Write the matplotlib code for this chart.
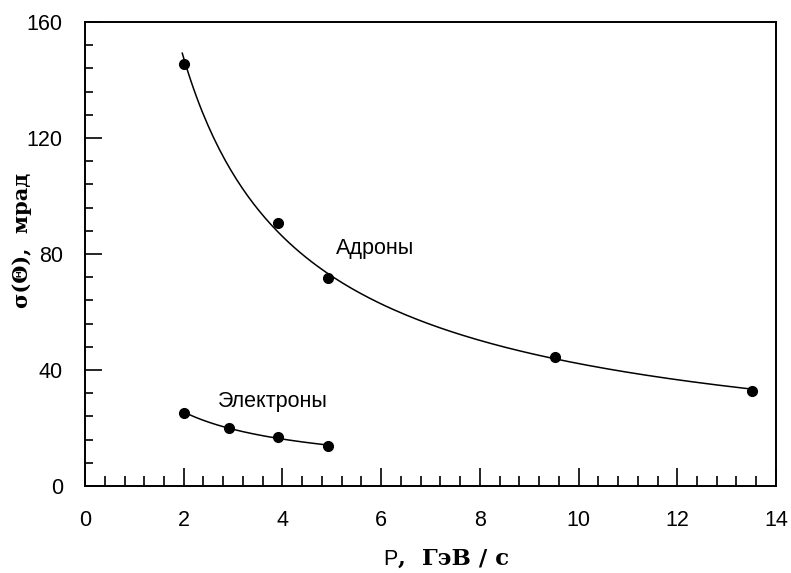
import numpy as np
import matplotlib.pyplot as plt
from matplotlib.ticker import MultipleLocator

p_hadr = [2.0, 3.9, 4.93, 9.53, 13.52]
s_hadr = [145.4, 90.6, 71.8, 44.6, 32.8]
p_el = [2.0, 2.92, 3.92, 4.93]
s_el = [25.3, 19.9, 16.8, 13.8]

lab_hadr = 'Адроны'
lab_el = 'Электроны'


def power_fit(x, y, x0, x1):
    # fit sigma = a * p^-b in log space
    b, a = np.polyfit(np.log(x), np.log(y), 1)
    xx = np.linspace(x0, x1, 200)
    return xx, np.exp(a) * xx ** b


fig = plt.figure(figsize=(7.91, 5.73), dpi=100)
ax = fig.add_axes([0.1075, 0.152, 0.8735, 0.8096])

xx, yy = power_fit(p_hadr, s_hadr, 1.97, p_hadr[-1])
ax.plot(xx, yy, color='black', lw=1.1)
xx, yy = power_fit(p_el, s_el, p_el[0], p_el[-1])
ax.plot(xx, yy, color='black', lw=1.1)

ax.plot(p_hadr, s_hadr, 'o', color='black', ms=7)
ax.plot(p_el, s_el, 'o', color='black', ms=7)

ax.text(5.08, 82, lab_hadr, fontsize=15.5, family='Liberation Sans', va='center')
ax.text(2.7, 29, lab_el, fontsize=15.5, family='Liberation Sans', va='center')

ax.set_xlim(0, 14)
ax.set_ylim(0, 160)
ax.xaxis.set_major_locator(MultipleLocator(2))
ax.xaxis.set_minor_locator(MultipleLocator(0.4))
ax.yaxis.set_major_locator(MultipleLocator(40))
ax.yaxis.set_minor_locator(MultipleLocator(8))

ax.tick_params(axis='x', which='major', direction='in', length=13, width=1.2, pad=17)
ax.tick_params(axis='x', which='minor', direction='in', length=7, width=1.2)
ax.tick_params(axis='y', which='major', direction='in', length=12, width=1.2, pad=16)
ax.tick_params(axis='y', which='minor', direction='in', length=5.5, width=1.2)
for lbl in ax.get_xticklabels() + ax.get_yticklabels():
    lbl.set_family('Liberation Sans')
    lbl.set_fontsize(15.5)
for sp in ax.spines.values():
    sp.set_linewidth(1.4)

# axis titles
fig.text(0.502, 0.014, 'P', ha='right', va='baseline', fontsize=15.5,
         family='Liberation Sans')
fig.text(0.503, 0.014, ',  ГэВ / с', ha='left', va='baseline', fontsize=16.5,
         family='DejaVu Serif', weight='bold')
fig.text(0.028, 0.581, 'σ(Θ),  мрад', rotation=90, ha='center', va='center',
         fontsize=15, family='DejaVu Serif', weight='bold')

fig.savefig('out.png', dpi=100)
